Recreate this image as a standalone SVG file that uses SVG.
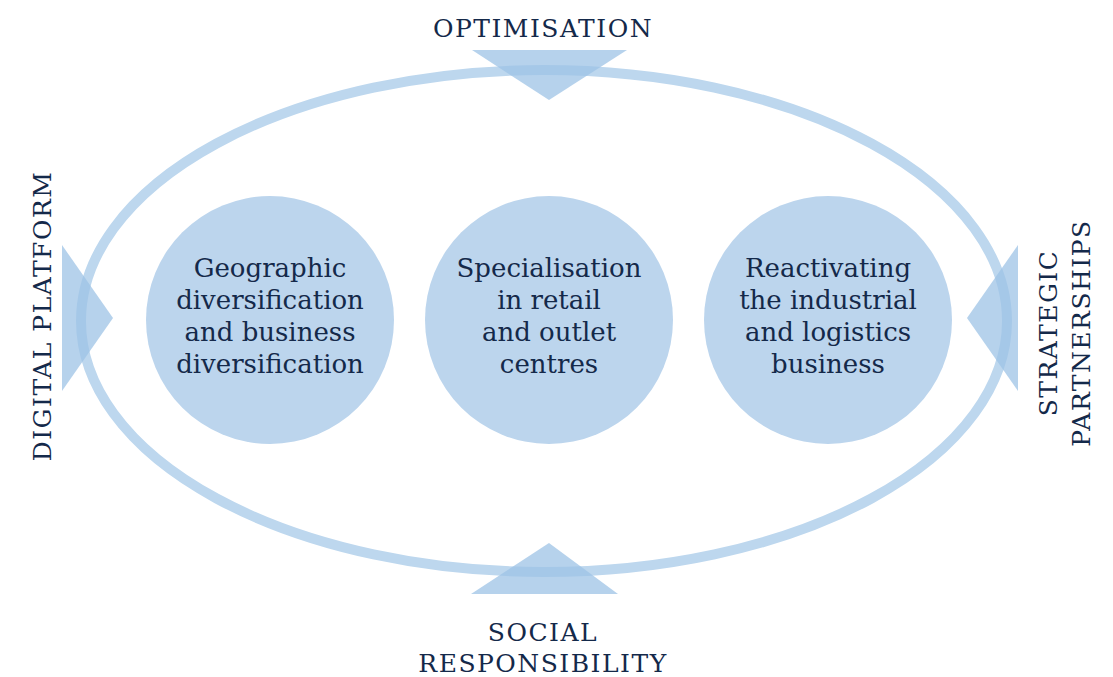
<svg xmlns="http://www.w3.org/2000/svg" width="1113" height="677" viewBox="0 0 1113 677">
<style>
.lbl{font-family:"DejaVu Serif","Liberation Serif",serif;font-size:25px;fill:#14294a;text-anchor:middle;letter-spacing:1.5px}
.ct{font-family:"DejaVu Serif","Liberation Serif",serif;font-size:26px;fill:#14294a;text-anchor:middle}
.circ{fill:#bcd5ed}
.tri{fill:#9dc3e6;opacity:0.75}
</style>
<rect width="1113" height="677" fill="#ffffff"/>
<g id="ring"><ellipse cx="544" cy="321" rx="463" ry="251" fill="none" stroke="#bdd7ee" stroke-width="10"/></g>
<g id="node-geo">
<circle class="circ" cx="270" cy="320" r="124"/>
<text class="ct"><tspan x="270" y="277">Geographic</tspan><tspan x="270" y="309">diversification</tspan><tspan x="270" y="341">and business</tspan><tspan x="270" y="373">diversification</tspan></text>
</g>
<g id="node-retail">
<circle class="circ" cx="549" cy="320" r="124"/>
<text class="ct"><tspan x="549" y="277">Specialisation</tspan><tspan x="549" y="309">in retail</tspan><tspan x="549" y="341">and outlet</tspan><tspan x="549" y="373">centres</tspan></text>
</g>
<g id="node-industrial">
<circle class="circ" cx="828" cy="320" r="124"/>
<text class="ct"><tspan x="828" y="277">Reactivating</tspan><tspan x="828" y="309">the industrial</tspan><tspan x="828" y="341">and logistics</tspan><tspan x="828" y="373">business</tspan></text>
</g>
<g id="connectors">
<polygon class="tri" points="472,50 627,50 549,100"/>
<polygon class="tri" points="471,594 618,594 549,543"/>
<polygon class="tri" points="62,245 62,391 113,318"/>
<polygon class="tri" points="1018,245 1018,391 967,318"/>
</g>
<g id="label-opt"><text class="lbl" x="543" y="37">OPTIMISATION</text></g>
<g id="label-social"><text class="lbl"><tspan x="543" y="641">SOCIAL</tspan><tspan x="543" y="672">RESPONSIBILITY</tspan></text></g>
<g id="label-digital"><text class="lbl" transform="translate(51,316) rotate(-90)" x="0" y="0">DIGITAL PLATFORM</text></g>
<g id="label-strategic"><text class="lbl" transform="translate(1057,333) rotate(-90)"><tspan x="0" y="0">STRATEGIC</tspan><tspan x="0" y="33">PARTNERSHIPS</tspan></text></g>
</svg>
